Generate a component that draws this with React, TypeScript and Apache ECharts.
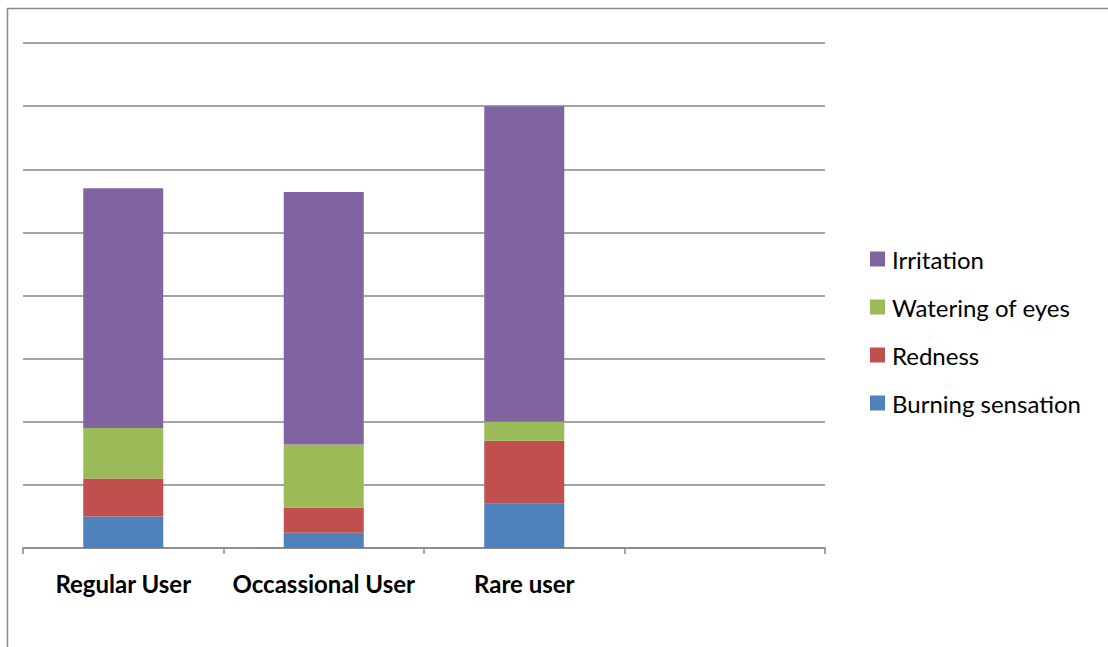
import React, { useEffect, useRef } from "react";
import * as echarts from "echarts";

const categories = ["Regular User", "Occassional User", "Rare user", ""];
const burning = [5, 2.4, 7, null];
const redness = [6, 4, 10, null];
const watering = [8, 10, 3, null];
const irritation = [38, 40, 50, null];
const legendOrder = ["Irritation", "Watering of eyes", "Redness", "Burning sensation"];

export default function App() {
  const ref = useRef<HTMLDivElement>(null);
  useEffect(() => {
    const chart = echarts.init(ref.current!, null, { renderer: "svg" });
    const mk = (name: string, data: (number | null)[], color: string) => ({
      name,
      type: "bar",
      stack: "s",
      data,
      barWidth: 80,
      itemStyle: { color },
    });
    chart.setOption({
      animation: false,
      backgroundColor: "#ffffff",
      grid: { left: 23, right: 283, top: 43, bottom: 99 },
      legend: {
        orient: "vertical",
        left: 865,
        top: 241,
        padding: 5,
        data: legendOrder,
        icon: "rect",
        itemWidth: 15,
        itemHeight: 15,
        itemGap: 22,
        textStyle: { fontFamily: "Lato", fontSize: 24, color: "#000", lineHeight: 26, padding: [0, 0, 0, 2] },
      },
      xAxis: {
        type: "category",
        data: categories,
        axisLine: { show: true, lineStyle: { color: "#868686", width: 1.5 } },
        axisTick: { show: true, alignWithLabel: false, length: 6, lineStyle: { color: "#868686", width: 1.5 } },
        axisLabel: {
          fontFamily: "Lato",
          fontWeight: "bold",
          fontSize: 24,
          color: "#000",
          margin: 23,
          interval: 0,
        },
      },
      yAxis: {
        type: "value",
        min: 0,
        max: 80,
        interval: 10,
        axisLabel: { show: false },
        axisLine: { show: false },
        axisTick: { show: false },
        splitLine: { show: true, lineStyle: { color: "#868686", width: 1.5 } },
      },
      graphic: [
        { type: "line", shape: { x1: 7.5, y1: 8, x2: 7.5, y2: 647 }, style: { stroke: "#888", lineWidth: 1.5 } },
        { type: "line", shape: { x1: 7, y1: 8.5, x2: 1108, y2: 8.5 }, style: { stroke: "#888", lineWidth: 1.5 } },
      ],
      series: [
        mk("Burning sensation", burning, "#4F81BD"),
        mk("Redness", redness, "#C0504D"),
        mk("Watering of eyes", watering, "#9BBB59"),
        mk("Irritation", irritation, "#8064A2"),
      ],
    });
    return () => chart.dispose();
  }, []);
  return (
    <div
      ref={ref}
      style={{ position: "absolute", left: 0, top: 0, width: 1108, height: 647 }}
    />
  );
}
